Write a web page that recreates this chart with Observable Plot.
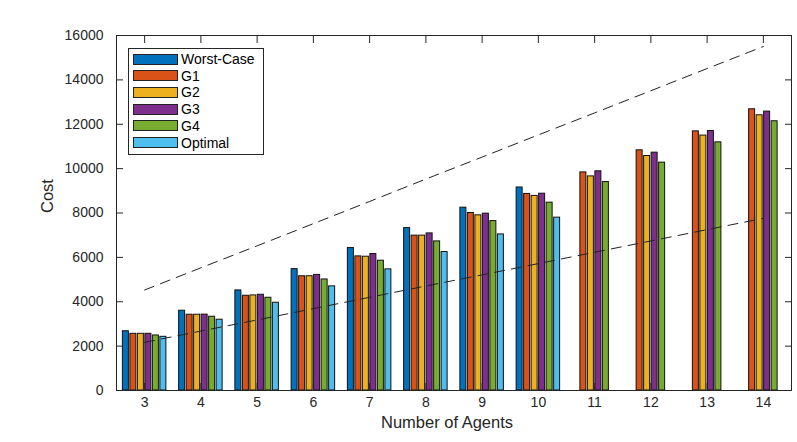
<!DOCTYPE html>
<html>
<head>
<meta charset="utf-8">
<script src="https://cdn.jsdelivr.net/npm/d3@7"></script>
<script src="https://cdn.jsdelivr.net/npm/@observablehq/plot@0.6"></script>
<style>
  body { margin: 0; background: #fff; font-family: "Liberation Sans", Arial, Helvetica, sans-serif; }
  #wrap { position: relative; width: 797px; height: 442px; }
  #legend { position: absolute; left: 128px; top: 48px; width: 136px; height: 107px;
            border: 1px solid #262626; background: #fff; box-sizing: border-box; }
  .item { position: absolute; left: 4px; height: 12px; display: flex; align-items: center; }
  .sw { width: 45px; height: 11px; border: 1px solid #222; box-sizing: border-box; }
  .lab { margin-left: 3px; font-size: 14px; color: #000; line-height: 12px; }
</style>
</head>
<body>
<div id="wrap"><div id="chart"></div><div id="legend"></div></div>
<script>
const agents = [3, 4, 5, 6, 7, 8, 9, 10, 11, 12, 13, 14];
const seriesNames = ["Worst-Case", "G1", "G2", "G3", "G4", "Optimal"];
const seriesColors = ["#0072BD", "#D95319", "#EDB120", "#7E2F8E", "#77AC30", "#4DBEEE"];
const worstCase = [2670, 3595, 4510, 5470, 6420, 7320, 8240, 9150, null, null, null, null];
const g1 = [2555, 3415, 4270, 5150, 6045, 6980, 8000, 8860, 9830, 10825, 11680, 12675];
const g2 = [2555, 3415, 4285, 5150, 6030, 6980, 7895, 8770, 9650, 10570, 11490, 12405];
const g3 = [2555, 3420, 4315, 5210, 6150, 7080, 7970, 8870, 9880, 10720, 11695, 12570];
const g4 = [2480, 3325, 4180, 5005, 5850, 6720, 7635, 8466, 9395, 10270, 11185, 12135];
const optimal = [2420, 3190, 3955, 4695, 5460, 6240, 7035, 7790, null, null, null, null];
const upperBound = [4530, 5530, 6520, 7520, 8520, 9530, 10520, 11520, 12510, 13510, 14510, 15505];
const lowerBound = [2170, 2680, 3180, 3690, 4200, 4710, 5210, 5720, 6230, 6740, 7250, 7760];
const yTicks = [0, 2000, 4000, 6000, 8000, 10000, 12000, 14000, 16000];
const xTitle = "Number of Agents";
const yTitle = "Cost";

const seriesValues = [worstCase, g1, g2, g3, g4, optimal];
const groupWidth = 0.8;
const slot = groupWidth / seriesNames.length;
const bars = [];
seriesValues.forEach((vals, i) => {
  vals.forEach((v, j) => {
    if (v == null) return;
    const left = agents[j] - groupWidth / 2 + i * slot + slot * 0.1;
    bars.push({series: seriesNames[i], agent: agents[j], value: v, x1: left, x2: left + slot * 0.8});
  });
});
const upper = agents.map((a, j) => ({agent: a, value: upperBound[j]}));
const lower = agents.map((a, j) => ({agent: a, value: lowerBound[j]}));

const ink = "#262626";
const chart = Plot.plot({
  width: 797, height: 442,
  marginLeft: 116, marginRight: 6, marginTop: 35, marginBottom: 52,
  style: {fontFamily: "'Liberation Sans', Arial, Helvetica, sans-serif", fontSize: "14px", color: ink, background: "#fff", overflow: "visible"},
  x: {domain: [2.5, 14.5], label: null},
  y: {domain: [0, 16000], label: null},
  color: {domain: seriesNames, range: seriesColors},
  marks: [
    Plot.rect(bars, {x1: "x1", x2: "x2", y1: 0, y2: "value", fill: "series", stroke: "#111", strokeWidth: 1}),
    Plot.line(upper, {x: "agent", y: "value", stroke: "#222", strokeWidth: 1, strokeDasharray: "10,7"}),
    Plot.line(lower, {x: "agent", y: "value", stroke: "#222", strokeWidth: 1, strokeDasharray: "10,7"}),
    Plot.frame({stroke: ink, strokeWidth: 1}),
    Plot.axisX(agents, {anchor: "bottom", tickSize: 0, tickPadding: 7, tickFormat: d => String(d), fontSize: 14, label: null, fill: ink}),
    Plot.axisX(agents, {anchor: "bottom", tickSize: -7, text: null, label: null, stroke: ink}),
    Plot.axisX(agents, {anchor: "top", tickSize: -7, text: null, label: null, stroke: ink}),
    Plot.axisY(yTicks, {anchor: "left", tickSize: 0, tickPadding: 13, tickFormat: d => String(d), fontSize: 14, label: null, fill: ink}),
    Plot.axisY(yTicks, {anchor: "left", tickSize: -7, text: null, label: null, stroke: ink}),
    Plot.axisY(yTicks, {anchor: "right", tickSize: -7, text: null, label: null, stroke: ink}),
    Plot.text([xTitle], {frameAnchor: "bottom", dy: 37, dx: -7, text: d => d, fontSize: 16.5, fill: ink}),
    Plot.text([yTitle], {frameAnchor: "left", dx: -69, rotate: -90, text: d => d, fontSize: 16.5, fill: ink})
  ]
});
document.getElementById("chart").appendChild(chart);

const legend = document.getElementById("legend");
seriesNames.forEach((name, i) => {
  const row = document.createElement("div");
  row.className = "item";
  row.style.top = (4 + i * 16.7) + "px";
  const sw = document.createElement("div");
  sw.className = "sw";
  sw.style.background = seriesColors[i];
  const lab = document.createElement("span");
  lab.className = "lab";
  lab.textContent = name;
  row.appendChild(sw); row.appendChild(lab);
  legend.appendChild(row);
});
</script>
</body>
</html>
